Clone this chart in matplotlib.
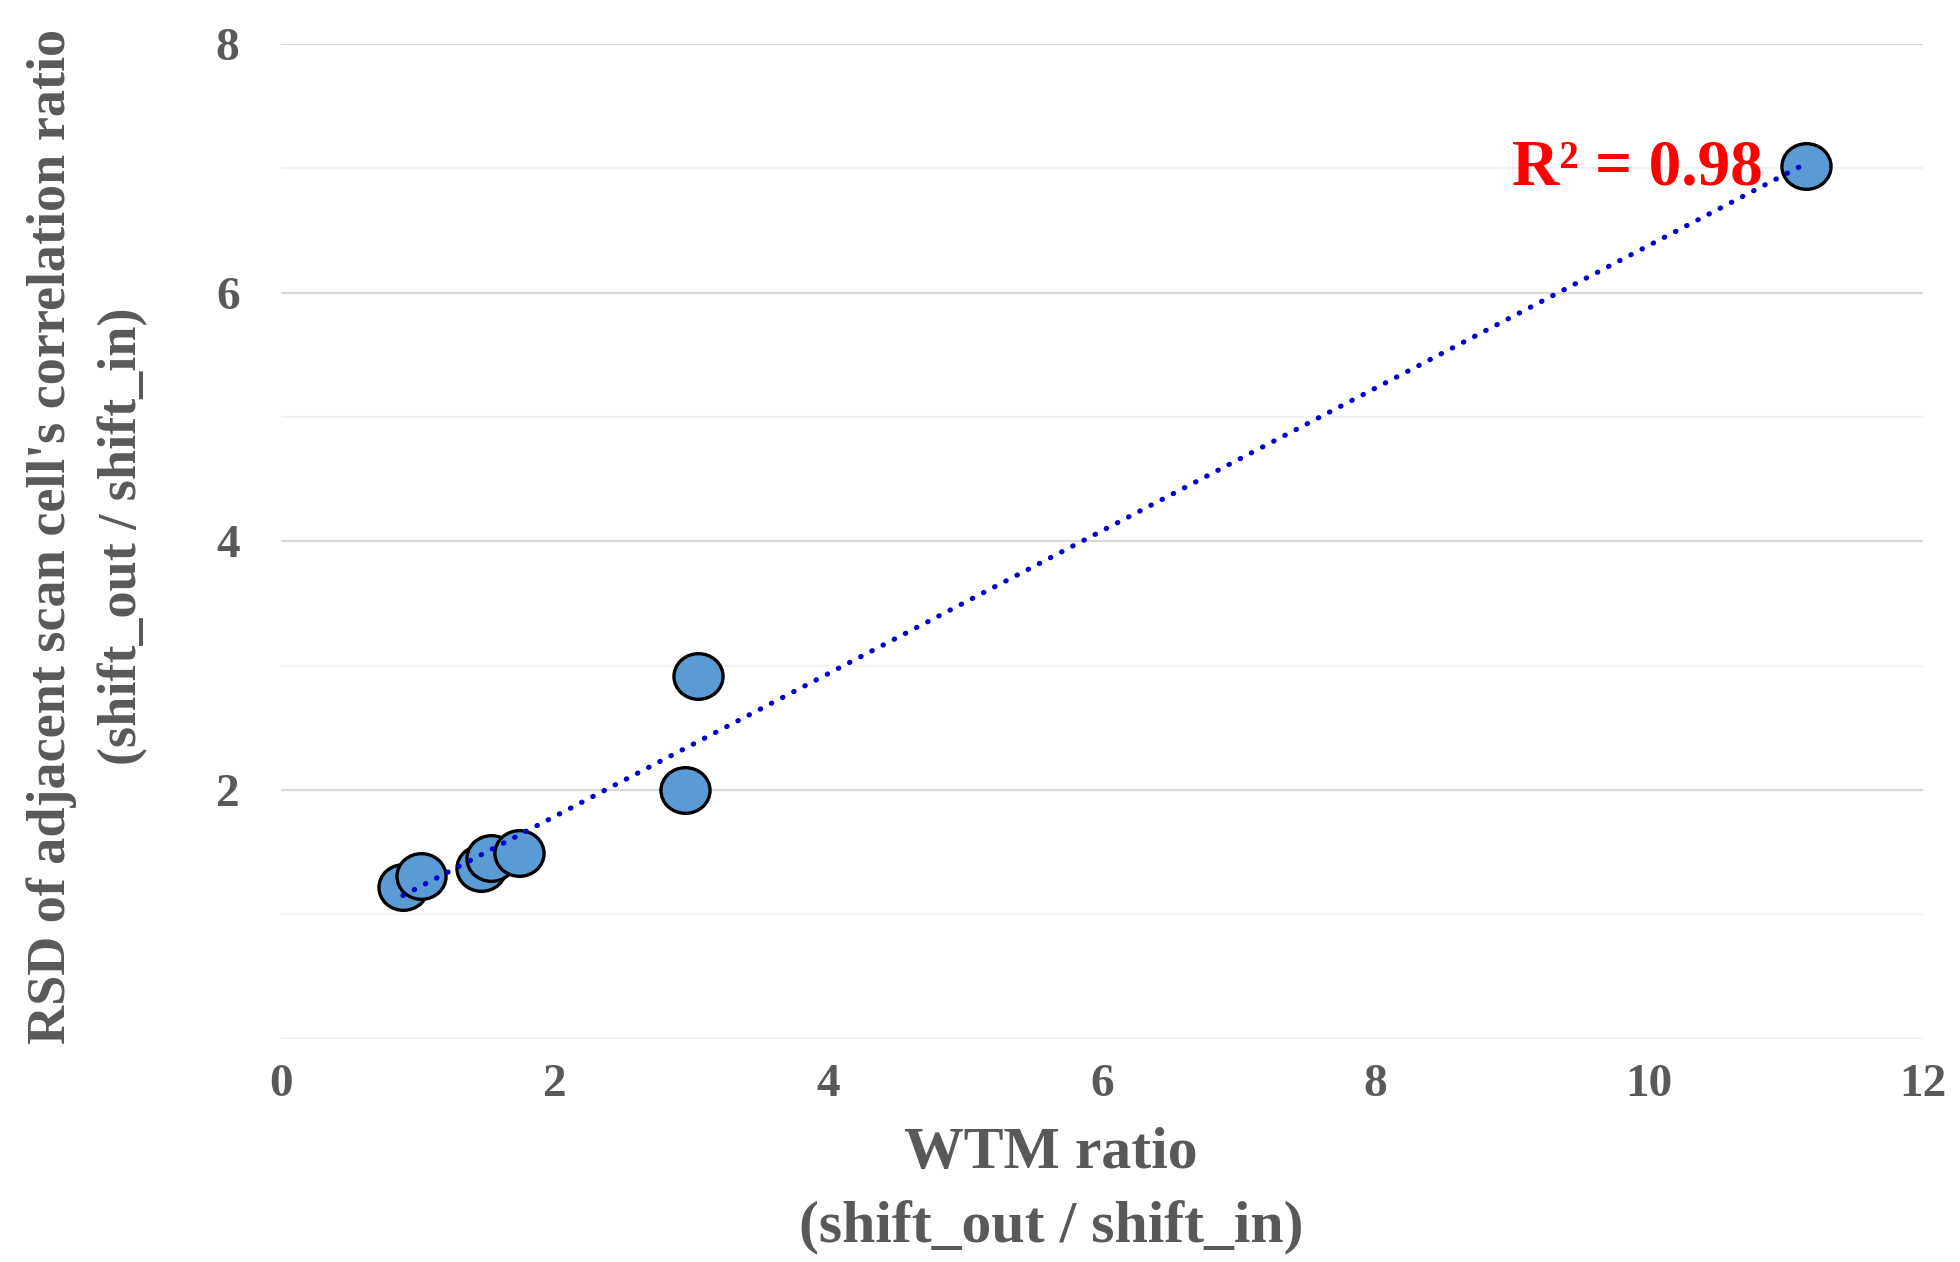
import numpy as np
import matplotlib.pyplot as plt
from matplotlib.path import Path

# data
wtm_ratio = [0.89, 1.02, 1.46, 1.53, 1.74, 2.95, 3.05, 11.15]
rsd_ratio = [1.22, 1.31, 1.37, 1.45, 1.49, 2.00, 2.92, 7.02]
x_ticks = [0, 2, 4, 6, 8, 10, 12]
y_ticks = [2, 4, 6, 8]

gray = "#595959"
plt.rcParams["font.family"] = ["Liberation Serif", "DejaVu Serif"]
plt.rcParams["font.weight"] = "bold"

fig = plt.figure(figsize=(19.6, 12.62), dpi=100)
ax = fig.add_axes([0.1435, 0.177, 0.8375, 0.788])

x = np.array(wtm_ratio)
y = np.array(rsd_ratio)

# linear trendline
slope, icpt = np.polyfit(x, y, 1)
xx = np.array([x.min(), x.max()])
pred = slope * x + icpt
r2 = 1 - np.sum((y - pred) ** 2) / np.sum((y - y.mean()) ** 2)

# slightly flattened circle, like the excel marker
circ = Path.unit_circle()
oval = Path(circ.vertices * [1.0, 0.93], circ.codes)

ax.scatter(x, y, s=1250, marker=oval, color="#5B9BD5", edgecolor="black",
           linewidth=2.4, zorder=3)
ax.plot(xx, slope * xx + icpt, linestyle=(0, (0.1, 2.35)), dash_capstyle="round",
        color="#0000CC", linewidth=3.7, zorder=4)

ax.text(x.max() - 0.32, 7.0, f"R² = {r2:.2f}", color="red", fontsize=47,
        fontweight="bold", ha="right", va="center", zorder=5)

ax.set_xlim(0, 12)
ax.set_ylim(0, 8)
ax.set_xticks(x_ticks)
ax.set_yticks(y_ticks)
ax.set_yticks([0, 1, 3, 5, 7], minor=True)
ax.grid(True, which="major", axis="y", color="#D9D9D9", linewidth=1.6)
ax.grid(True, which="minor", axis="y", color="#F2F2F2", linewidth=1.6)
ax.set_axisbelow(True)
ax.axhline(0, color="#D9D9D9", linewidth=1.6, zorder=0)
for s in ax.spines.values():
    s.set_visible(False)
ax.tick_params(which="both", length=0, labelsize=34, labelcolor=gray)
ax.tick_params(axis="x", pad=18)
ax.tick_params(axis="y", pad=30)
for lbl in ax.get_xticklabels() + ax.get_yticklabels():
    lbl.set_fontweight("bold")

ax.set_xlabel("WTM ratio\n(shift_out / shift_in)", fontsize=43, fontweight="bold",
              color=gray, linespacing=1.48)
ax.xaxis.label.set_va("center")
ax.xaxis.set_label_coords(0.469, -0.153)

ax.set_ylabel("RSD of adjacent scan cell's correlation ratio\n(shift_out / shift_in)",
              fontsize=39, fontweight="bold", color=gray, linespacing=1.55)
ax.yaxis.label.set_va("center")
ax.yaxis.set_label_coords(-0.118, 0.505)

fig.savefig("out.png", dpi=100)
